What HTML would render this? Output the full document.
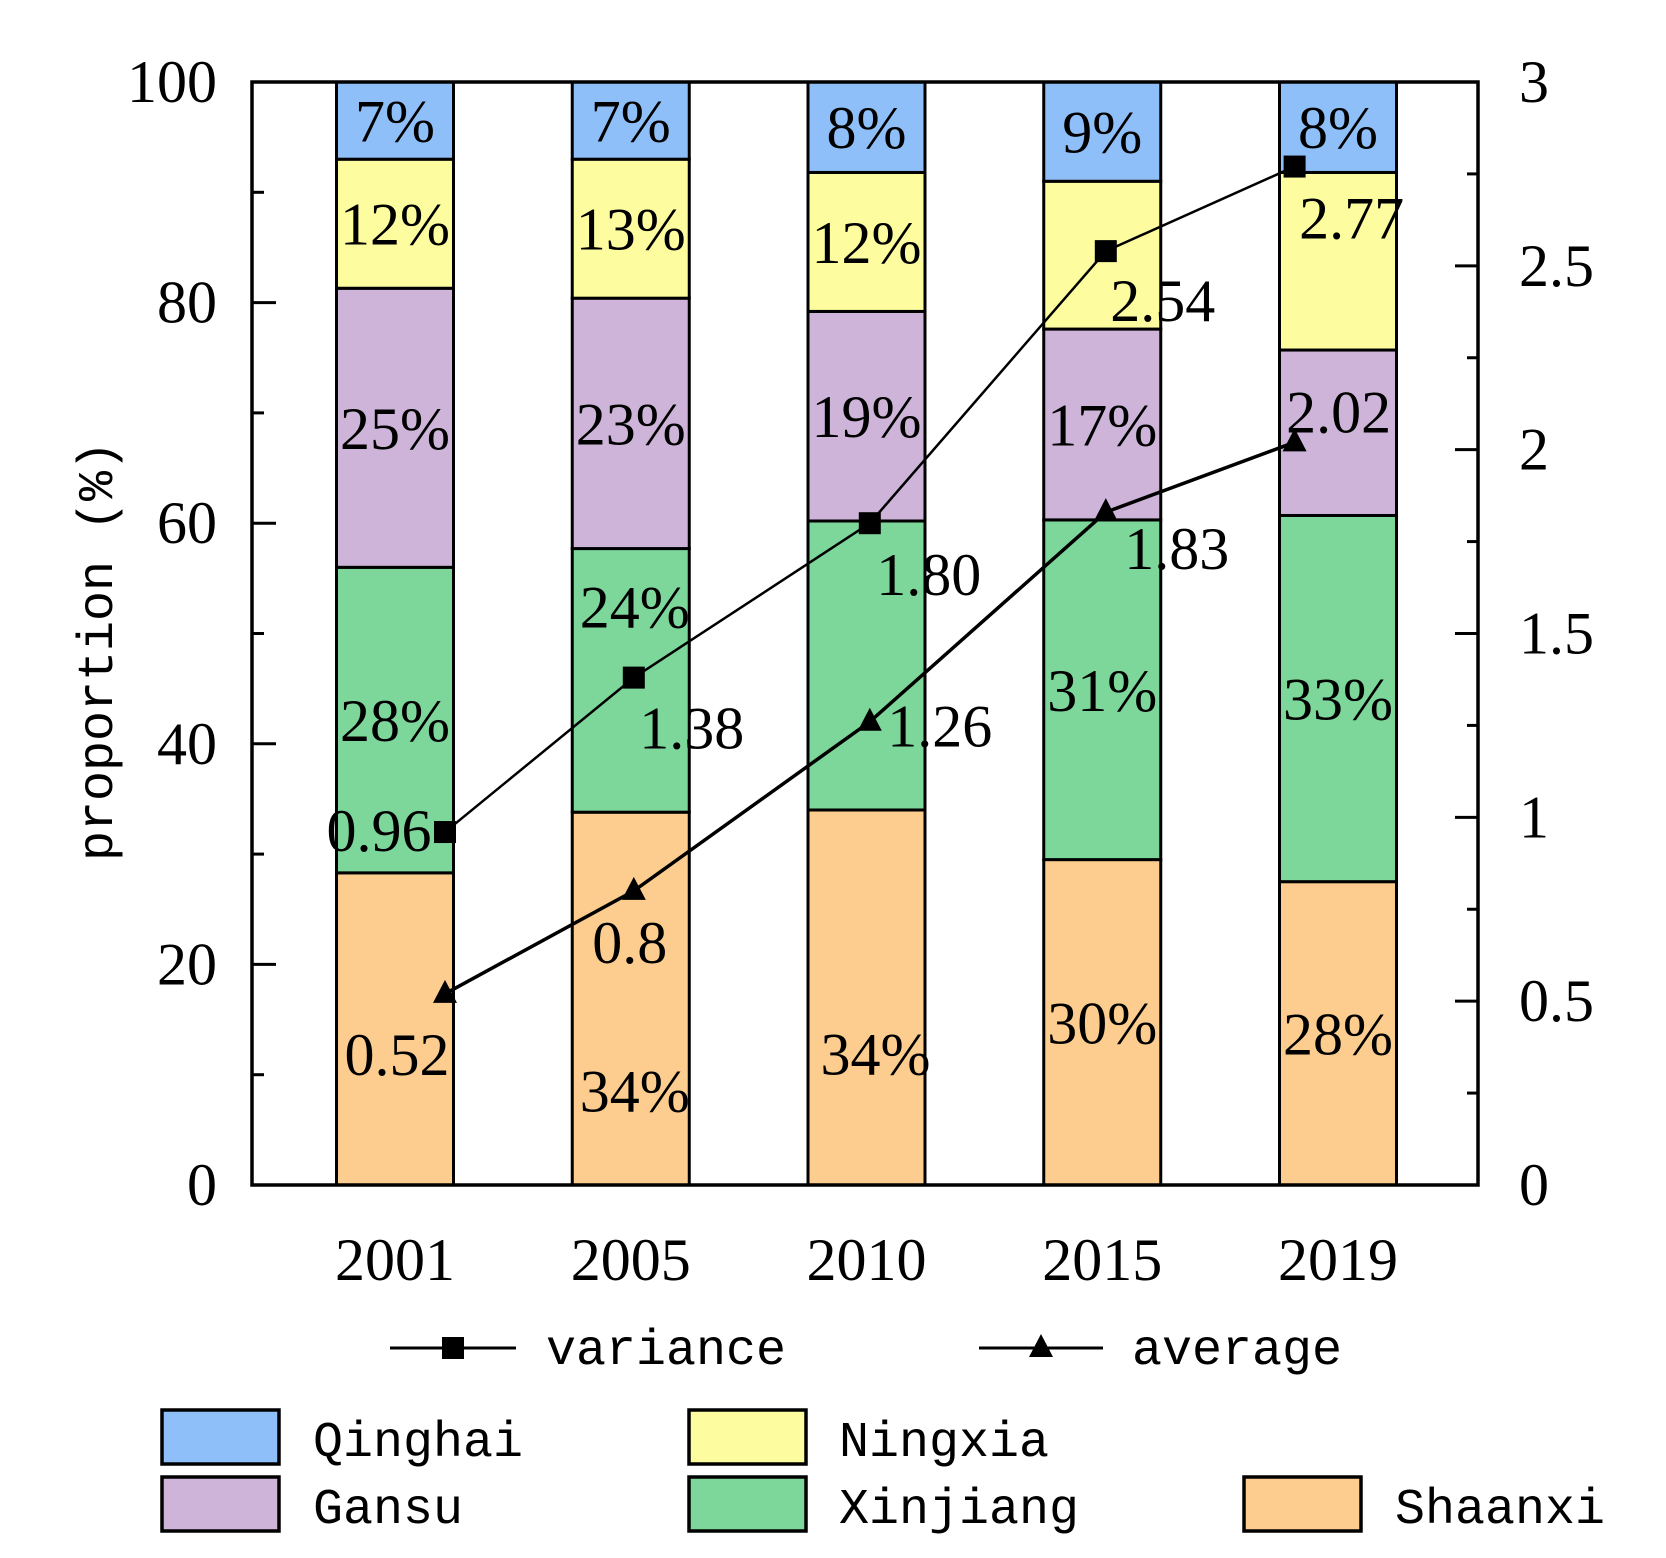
<!DOCTYPE html>
<html><head><meta charset="utf-8"><style>
html,body{margin:0;padding:0;background:#fff;}
svg{display:block;}
.serif{font-family:"Liberation Serif",serif;font-size:60px;fill:#000;}
.mono{font-family:"Liberation Mono",monospace;font-size:50px;fill:#000;}
</style></head><body>
<svg id="chart" width="1666" height="1558" viewBox="0 0 1666 1558" xmlns="http://www.w3.org/2000/svg">
<rect width="1666" height="1558" fill="#fff"/>
<g id="bars"></g>
<g id="axes"></g>
<g id="lines"></g>
<g id="legend"></g>
</svg>
<script>
const years = ["2001","2005","2010","2015","2019"];
const seriesNames = ["Shaanxi","Xinjiang","Gansu","Ningxia","Qinghai"];
const shaanxi = [28.3, 33.8, 34.0, 29.5, 27.5];
const xinjiang = [27.7, 23.9, 26.2, 30.8, 33.2];
const gansu = [25.3, 22.7, 19.0, 17.3, 15.0];
const ningxia = [11.7, 12.6, 12.6, 13.4, 16.1];
const qinghai = [7.0, 7.0, 8.2, 9.0, 8.2];
const shaanxiLabels = ["", "34%", "34%", "30%", "28%"];
const xinjiangLabels = ["28%", "24%", "", "31%", "33%"];
const gansuLabels = ["25%", "23%", "19%", "17%", ""];
const ningxiaLabels = ["12%", "13%", "12%", "", ""];
const qinghaiLabels = ["7%", "7%", "8%", "9%", "8%"];
const variance = [0.96, 1.38, 1.80, 2.54, 2.77];
const varianceLabels = ["0.96","1.38","1.80","2.54","2.77"];
const average = [0.52, 0.8, 1.26, 1.83, 2.02];
const averageLabels = ["0.52","0.8","1.26","1.83","2.02"];
const leftTicks = [0,20,40,60,80,100];
const rightTicks = ["0","0.5","1","1.5","2","2.5","3"];

const NS="http://www.w3.org/2000/svg";
const L=252,R=1478,T=82,B=1185;
const colors=["#fdcd90","#7dd79a","#cdb4d8","#fdfda0","#8fbff8"];
const y1=v=>B-(v/100)*(B-T);
const y2=v=>B-(v/3)*(B-T);
const xBar=i=>395+i*235.75;
const xLine=i=>445+(parseInt(years[i])-2001)*47.2;
const barW=117;
function mk(tag,attrs,parent){const e=document.createElementNS(NS,tag);for(const k in attrs)e.setAttribute(k,attrs[k]);parent.appendChild(e);return e;}
const gb=document.getElementById('bars'),ga=document.getElementById('axes'),gl=document.getElementById('lines'),gg=document.getElementById('legend');
const stacks=[shaanxi,xinjiang,gansu,ningxia,qinghai];
const labs=[shaanxiLabels,xinjiangLabels,gansuLabels,ningxiaLabels,qinghaiLabels];
const labOff={"1-1":[4,-74],"1-0":[4,92],"2-0":[9,56]};
years.forEach((yr,i)=>{
  let cum=0;
  stacks.forEach((s,k)=>{
    const v=s[i];const top=y1(cum+v),bot=y1(cum);
    const r=mk('rect',{x:xBar(i)-barW/2,y:top,width:barW,height:bot-top,fill:colors[k],stroke:'#000','stroke-width':3},gb);
    
    
    if(labs[k][i]){
      const o=labOff[i+'-'+k]||[0,0];
      const t=mk('text',{x:xBar(i)+o[0],y:(top+bot)/2+o[1]+21,'text-anchor':'middle',class:'serif','font-size':'62'},gb);
      t.textContent=labs[k][i];
      
      
    }
    cum+=v;
  });
  const t=mk('text',{x:xBar(i),y:1280,'text-anchor':'middle',class:'serif','font-size':'62'},ga);
  t.textContent=yr;
  
  
});
const fr=mk('rect',{x:L,y:T,width:R-L,height:B-T,fill:'none',stroke:'#000','stroke-width':3.5},ga);


for(let v=0;v<=100;v+=10){
  const major=v%20===0;
  mk('line',{x1:L,x2:L+(major?24:12),y1:y1(v),y2:y1(v),stroke:'#000','stroke-width':3},ga);
}
leftTicks.forEach(v=>{
  const t=mk('text',{x:217,y:y1(v)+20,'text-anchor':'end',class:'serif'},ga);
  t.textContent=v;
  
  
});
for(let v=0;v<=3.0001;v+=0.25){
  const major=Math.abs(v*2-Math.round(v*2))<1e-6;
  mk('line',{x1:R,x2:R-(major?23:11),y1:y2(v),y2:y2(v),stroke:'#000','stroke-width':3},ga);
}
rightTicks.forEach(s=>{
  const t=mk('text',{x:1519,y:y2(parseFloat(s))+20,'text-anchor':'start',class:'serif'},ga);
  t.textContent=s;
  
  
});
const yt=mk('text',{x:0,y:0,'text-anchor':'middle',class:'mono',transform:'translate(112,651) rotate(-90)','font-size':'52'},ga);
yt.textContent='proportion (%)';


function series(vals,labels,name,offs,marker){
  const pts=vals.map((v,i)=>[xLine(i),y2(v)]);
  const pl=mk('polyline',{points:pts.map(p=>p.join(',')).join(' '),fill:'none',stroke:'#000','stroke-width':name==='average'?3.5:2.5},gl);
  
  
  pts.forEach((p,i)=>{
    let m;
    if(marker==='square') m=mk('rect',{x:p[0]-11,y:p[1]-11,width:22,height:22,fill:'#000'},gl);
    else m=mk('polygon',{points:`${p[0]},${p[1]-14} ${p[0]-12},${p[1]+9} ${p[0]+12},${p[1]+9}`,fill:'#000'},gl);
    
    
    const t=mk('text',{x:p[0]+offs[i][0],y:p[1]+offs[i][1]+21,'text-anchor':'middle',class:'serif','font-size':'62'},gl);
    t.textContent=labels[i];
    
    
  });
}
series(variance,varianceLabels,'variance',[[-66,-2],[58,50],[59,51],[57,49],[57,51]],'square');
series(average,averageLabels,'average',[[-48,60],[-4,51],[70,4],[71,36],[44,-31]],'triangle');
function lineLegend(x1,x2,tx,label,marker){
  const g=mk('g',{},gg);
  
  
  mk('line',{x1:x1,x2:x2,y1:1348,y2:1348,stroke:'#000','stroke-width':3},g);
  const cx=(x1+x2)/2;
  if(marker==='square') mk('rect',{x:cx-11,y:1337,width:22,height:22,fill:'#000'},g);
  else mk('polygon',{points:`${cx},${1334} ${cx-12},${1357} ${cx+12},${1357}`,fill:'#000'},g);
  const t=mk('text',{x:tx,y:1364,class:'mono'},g);t.textContent=label;
}
lineLegend(390,516,546,'variance','square');
lineLegend(979,1103,1132,'average','triangle');
const boxes=[["Qinghai",162,1410,313,colors[4]],["Ningxia",689,1410,839,colors[3]],["Gansu",162,1477,313,colors[2]],["Xinjiang",689,1477,839,colors[1]],["Shaanxi",1244,1477,1395,colors[0]]];
boxes.forEach(b=>{
  const g=mk('g',{},gg);
  
  
  mk('rect',{x:b[1],y:b[2],width:117,height:54,fill:b[4],stroke:'#000','stroke-width':3.5},g);
  const t=mk('text',{x:b[3],y:b[2]+46,class:'mono'},g);t.textContent=b[0];
});
</script>
</body></html>
